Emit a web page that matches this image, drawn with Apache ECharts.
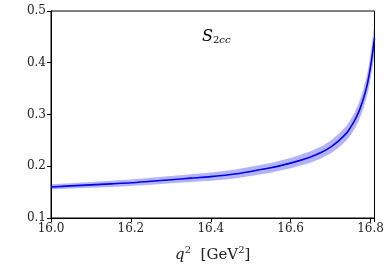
<!DOCTYPE html>
<html><head><meta charset="utf-8">
<script src="https://cdn.jsdelivr.net/npm/echarts@6/dist/echarts.min.js"></script>
<style>html,body{margin:0;padding:0;background:#fff}#c{width:390px;height:273px}</style>
</head><body><div id="c"></div>
<script>
const q2 = [16.00,16.05,16.10,16.15,16.20,16.25,16.30,16.35,16.40,16.45,16.50,16.55,16.60,16.65,16.68,16.70,16.72,16.74,16.75,16.76,16.77,16.78,16.79,16.795,16.80,16.805,16.81];
const central = [0.160,0.162,0.164,0.166,0.168,0.171,0.174,0.177,0.180,0.184,0.190,0.197,0.206,0.218,0.228,0.237,0.249,0.264,0.275,0.288,0.304,0.325,0.352,0.370,0.392,0.418,0.448];
const lower = [0.155,0.157,0.1585,0.160,0.1617,0.1643,0.167,0.1695,0.172,0.1755,0.181,0.1875,0.196,0.207,0.2162,0.2245,0.2357,0.2497,0.260,0.272,0.287,0.3065,0.332,0.348,0.368,0.391,0.418];
const upper = [0.165,0.167,0.1695,0.172,0.1743,0.1777,0.181,0.1845,0.188,0.1925,0.199,0.2065,0.216,0.229,0.2398,0.2495,0.2623,0.2783,0.290,0.304,0.321,0.3435,0.372,0.392,0.416,0.445,0.478];
const xTicks = [16.0,16.2,16.4,16.6,16.8];
const yTicks = [0.1,0.2,0.3,0.4,0.5];

const FONT = 'DejaVu Serif';
const chart = echarts.init(document.getElementById('c'), null, {renderer:'canvas'});
chart.setOption({
  animation:false,
  title:{
    text:'{s|S}{sub|2}{subi|cc}',
    left:197, top:22,
    textStyle:{fontWeight:'normal',rich:{
      s:{fontFamily:FONT,fontStyle:'italic',fontWeight:'normal',fontSize:16,color:'#000',verticalAlign:'bottom'},
      sub:{fontFamily:FONT,fontWeight:'normal',fontSize:10,color:'#000',padding:[8,0,0,0],verticalAlign:'bottom'},
      subi:{fontFamily:FONT,fontStyle:'italic',fontWeight:'normal',fontSize:10,color:'#000',padding:[8,0,0,0],verticalAlign:'bottom'}
    }}
  },
  grid:{left:51,right:15.5,top:11,bottom:55,show:true,borderColor:'#000',borderWidth:1,backgroundColor:'transparent'},
  xAxis:{
    type:'value',min:16.0,max:16.81,interval:0.2,
    axisLine:{show:true,onZero:false,lineStyle:{color:'#000',width:1}},
    axisTick:{show:true,length:4,lineStyle:{color:'#000'}},
    splitLine:{show:false},
    axisLabel:{fontFamily:FONT,fontSize:12,color:'#222',margin:5,
      formatter:v=>{const t=xTicks.find(x=>Math.abs(x-v)<1e-6);return t===undefined?'':t.toFixed(1);}},
    name:'{i|q}{sup|2}  [GeV{sup|2}]',
    nameLocation:'middle',nameGap:27,
    nameTextStyle:{rich:{
      i:{fontFamily:FONT,fontStyle:'italic',fontSize:15,color:'#222'},
      sup:{fontFamily:FONT,fontSize:10,color:'#222',padding:[0,0,10,0]}
      }, fontFamily:FONT,fontSize:15,color:'#222'}
  },
  yAxis:{
    type:'value',min:0.1,max:0.5,interval:0.1,
    axisLine:{show:true,onZero:false,lineStyle:{color:'#000',width:1}},
    axisTick:{show:true,length:4,lineStyle:{color:'#000'}},
    splitLine:{show:false},
    axisLabel:{fontFamily:FONT,fontSize:12,color:'#222',margin:5,
      formatter:v=>{const t=yTicks.find(x=>Math.abs(x-v)<1e-6);return t===undefined?'':t.toFixed(1);}}
  },
  series:[
    {type:'custom',silent:true,clip:true,data:[[16.0,0.16]],
      renderItem:function(params,api){
        if(params.dataIndex!==0) return null;
        const pts=[];
        for(let i=0;i<q2.length;i++) pts.push(api.coord([q2[i],upper[i]]));
        for(let i=q2.length-1;i>=0;i--) pts.push(api.coord([q2[i],lower[i]]));
        return {type:'polygon',shape:{points:pts},style:{fill:'rgba(0,0,255,0.3)'}};
      }},
    {type:'line',data:q2.map((x,i)=>[x,central[i]]),symbol:'none',smooth:0.3,lineStyle:{color:'#0000e6',width:1.6},z:5}
  ]
});
</script></body></html>
